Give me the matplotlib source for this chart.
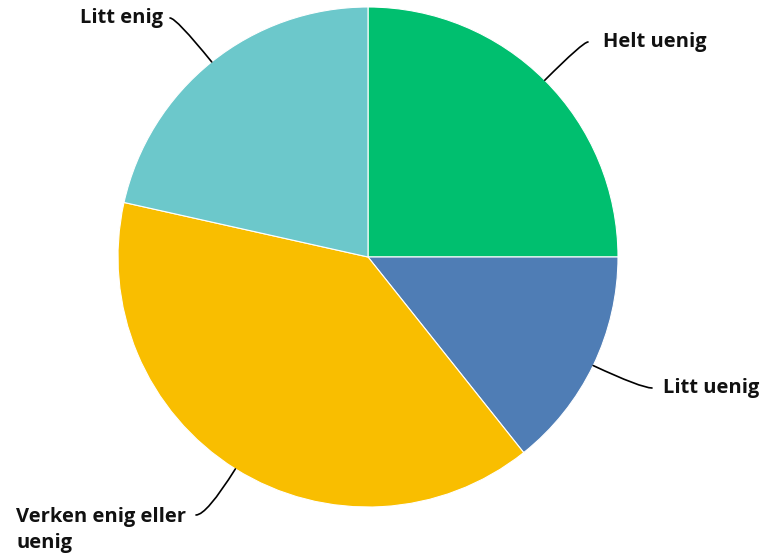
import numpy as np
import matplotlib.pyplot as plt

# shares (percent)
labels = ['Helt uenig', 'Litt uenig', 'Verken enig eller\nuenig', 'Litt enig']
values = [25.0, 14.3, 39.2, 21.5]
colors = ['#00BF6F', '#4F7DB5', '#F9BE00', '#6CC8CB']

W, H = 767, 556
fig = plt.figure(figsize=(W / 100, H / 100), dpi=100)
ax = fig.add_axes([0, 0, 1, 1])

cx, cy, r = 368, H - 257, 250
wedges, _ = ax.pie(values, colors=colors, startangle=90, counterclock=False,
                   center=(cx, cy), radius=r, frame=True,
                   wedgeprops=dict(edgecolor='white', linewidth=0.8))
ax.set_xlim(0, W)
ax.set_ylim(0, H)
ax.axis('off')

# label positions (pixel coords, y from top): connector end, text anchor, alignment
lab_pos = [((588, 42), (603, 42), 'left'),
           ((652, 388), (663, 388), 'left'),
           ((196, 515), (186, 530), 'right'),
           ((170, 18), (163, 18), 'right')]

for w, lab, (end, txt, ha) in zip(wedges, labels, lab_pos):
    ang = np.deg2rad((w.theta1 + w.theta2) / 2)
    px, py = cx + r * np.cos(ang), cy + r * np.sin(ang)
    ax.annotate('', xy=(px, py), xytext=(end[0], H - end[1]),
                arrowprops=dict(arrowstyle='-', color='black', lw=1.2,
                                shrinkA=0, shrinkB=0,
                                connectionstyle='angle3,angleA=0,angleB=%d' % np.rad2deg(ang)))
    ax.text(txt[0], H - txt[1], lab, ha=ha, va='center', fontsize=14.5,
            fontweight='bold', family='Open Sans', color='#111111',
            multialignment='left', linespacing=1.45)

fig.savefig('out.png', dpi=100)
